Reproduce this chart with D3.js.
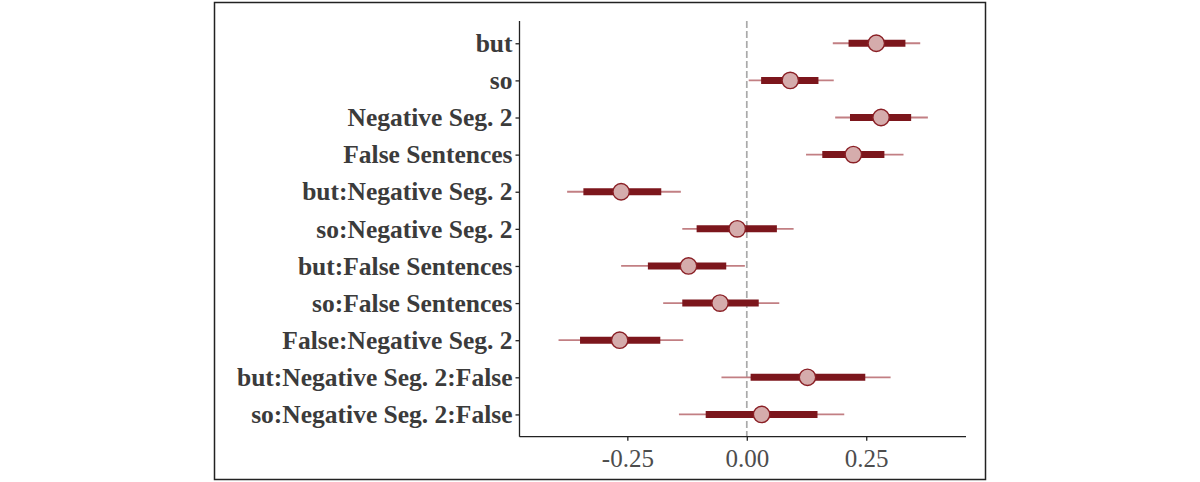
<!DOCTYPE html>
<html>
<head>
<meta charset="utf-8">
<script src="https://cdn.jsdelivr.net/npm/d3@7"></script>
<style>
  body { margin: 0; background: #fff; }
  svg { display: block; }
</style>
</head>
<body>
<svg></svg>
<script>
// coefficient labels, top to bottom
var terms = ["but", "so", "Negative Seg. 2", "False Sentences", "but:Negative Seg. 2",
             "so:Negative Seg. 2", "but:False Sentences", "so:False Sentences",
             "False:Negative Seg. 2", "but:Negative Seg. 2:False", "so:Negative Seg. 2:False"];
// point estimates
var estimate = [0.271, 0.091, 0.281, 0.223, -0.263, -0.020, -0.122, -0.056, -0.266, 0.127, 0.031];
// inner (thick) interval
var innerLo = [0.213, 0.030, 0.216, 0.158, -0.342, -0.105, -0.207, -0.135, -0.349, 0.008, -0.086];
var innerHi = [0.332, 0.150, 0.344, 0.288, -0.179, 0.063, -0.043, 0.025, -0.181, 0.248, 0.148];
// outer (thin) interval
var outerLo = [0.180, 0.004, 0.185, 0.124, -0.376, -0.135, -0.263, -0.175, -0.394, -0.053, -0.142];
var outerHi = [0.363, 0.182, 0.379, 0.328, -0.138, 0.098, -0.004, 0.068, -0.133, 0.301, 0.204];
var xTicks = [-0.25, 0, 0.25];

var width = 1200, height = 482;
var plotLeft = 519.5, plotRight = 966, plotTop = 21, plotBottom = 436.7;

var svg = d3.select("svg")
    .attr("width", width)
    .attr("height", height);

// outer frame
svg.append("rect")
    .attr("x", 214.5).attr("y", 2.5)
    .attr("width", 771).attr("height", 477)
    .attr("fill", "none")
    .attr("stroke", "#222")
    .attr("stroke-width", 1.5);

var x = d3.scaleLinear()
    .domain([-0.4757, 0.4588])
    .range([plotLeft, plotRight]);

var y = d3.scalePoint()
    .domain(terms)
    .range([plotTop, plotBottom])
    .padding(0.6);

// reference line at zero
svg.append("line")
    .attr("x1", x(0)).attr("x2", x(0))
    .attr("y1", plotTop).attr("y2", plotBottom)
    .attr("stroke", "#aaaaaa")
    .attr("stroke-width", 1.7)
    .attr("stroke-dasharray", "7,3");

var rows = terms.map(function(t, i) {
    return { term: t, est: estimate[i], lo1: innerLo[i], hi1: innerHi[i], lo2: outerLo[i], hi2: outerHi[i] };
});

var g = svg.append("g");

g.selectAll("line.outer")
    .data(rows)
    .enter()
    .append("line")
    .attr("class", "outer")
    .attr("x1", function(d) { return x(d.lo2); })
    .attr("x2", function(d) { return x(d.hi2); })
    .attr("y1", function(d) { return y(d.term); })
    .attr("y2", function(d) { return y(d.term); })
    .attr("stroke", "#c27f83")
    .attr("stroke-width", 1.8);

g.selectAll("line.inner")
    .data(rows)
    .enter()
    .append("line")
    .attr("class", "inner")
    .attr("x1", function(d) { return x(d.lo1); })
    .attr("x2", function(d) { return x(d.hi1); })
    .attr("y1", function(d) { return y(d.term); })
    .attr("y2", function(d) { return y(d.term); })
    .attr("stroke", "#7c161c")
    .attr("stroke-width", 7);

g.selectAll("circle")
    .data(rows)
    .enter()
    .append("circle")
    .attr("cx", function(d) { return x(d.est); })
    .attr("cy", function(d) { return y(d.term); })
    .attr("r", 8.2)
    .attr("fill", "#d5acac")
    .attr("stroke", "#8a1f25")
    .attr("stroke-width", 1.4);

// axes
var fmt = function(d) { return d3.format(".2f")(d).replace("\u2212", "-"); };
var xAxis = d3.axisBottom(x).tickValues(xTicks).tickFormat(fmt).tickSize(4).tickSizeOuter(0);
var yAxis = d3.axisLeft(y).tickSize(4).tickSizeOuter(0);

var gx = svg.append("g")
    .attr("transform", "translate(0," + plotBottom + ")")
    .call(xAxis);
gx.select(".domain").attr("d", "M" + plotLeft + ",0H" + plotRight).attr("stroke", "#222").attr("stroke-width", 1.3);
gx.selectAll(".tick line").attr("stroke", "#222").attr("stroke-width", 1.3);
gx.selectAll(".tick text")
    .attr("dy", "0.95em")
    .attr("font-family", "'Liberation Serif', 'Times New Roman', serif")
    .attr("font-size", 25)
    .attr("fill", "#4d4d4d");

var gy = svg.append("g")
    .attr("transform", "translate(" + plotLeft + ",0)")
    .call(yAxis);
gy.select(".domain").attr("d", "M0," + plotTop + "V" + plotBottom).attr("stroke", "#222").attr("stroke-width", 1.3);
gy.selectAll(".tick line").attr("stroke", "#222").attr("stroke-width", 1.3);
gy.selectAll(".tick text")
    .attr("x", -7)
    .attr("font-family", "'Liberation Serif', 'Times New Roman', serif")
    .attr("font-weight", "bold")
    .attr("font-size", 25.5)
    .attr("fill", "#3b3b3b");
</script>
</body>
</html>
